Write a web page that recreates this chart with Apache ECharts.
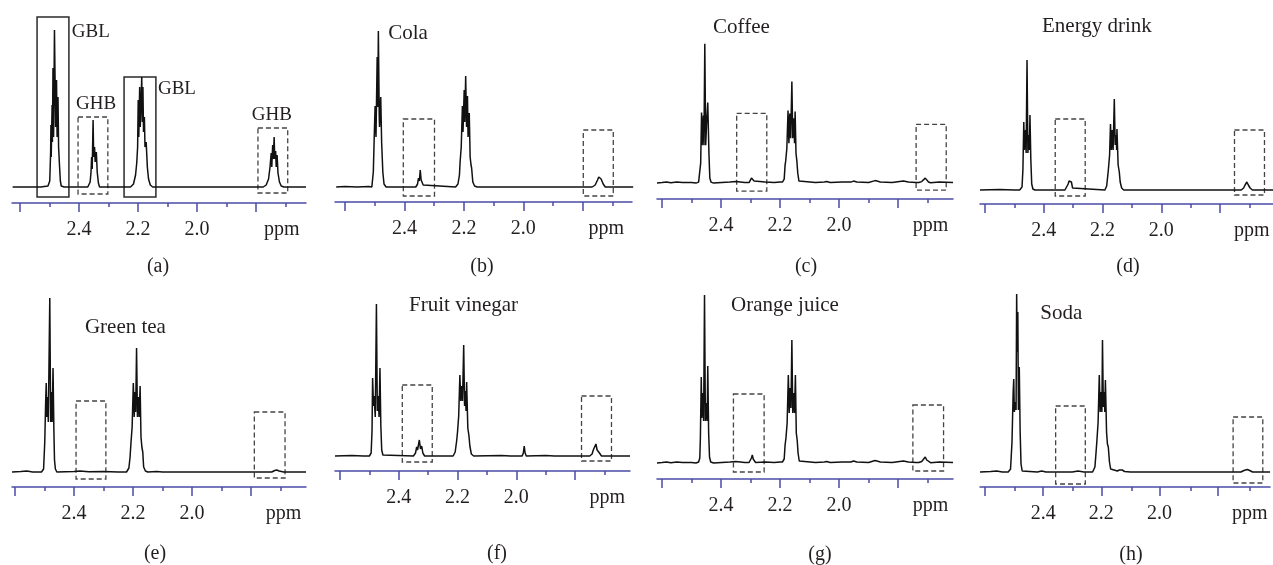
<!DOCTYPE html>
<html>
<head>
<meta charset="utf-8">
<title>GBL / GHB NMR spectra</title>
<script src="https://cdn.jsdelivr.net/npm/echarts@6/dist/echarts.min.js"></script>
<style>
  html, body { margin: 0; padding: 0; background: #fff; }
  #chart { width: 1273px; height: 565px; }
</style>
</head>
<body>
<div id="chart"></div>
<script>
// ---- data: ppm / intensity pairs ----
var panelNames = ['', 'Cola', 'Coffee', 'Energy drink', 'Green tea', 'Fruit vinegar', 'Orange juice', 'Soda'];
var panelTags = ['(a)', '(b)', '(c)', '(d)', '(e)', '(f)', '(g)', '(h)'];
var majorTicks = [2.6, 2.4, 2.2, 2.0, 1.8];
var minorTicks = [2.5, 2.3, 2.1, 1.9, 1.7];
var tickLabels = [2.4, 2.2, 2.0];

var specA = [[2.625,0],[2.57,0],[2.566,1.5],[2.562,0],[2.53,0],[2.505,1],[2.499,6],[2.496,35],[2.495,62],[2.494,30],[2.491,82],[2.490,45],[2.488,119],[2.486,50],[2.483,157],[2.479,60],[2.476,107],[2.474,50],[2.471,90],[2.469,40],[2.466,22],[2.463,6],[2.460,1],[2.45,0],
  [2.37,0],[2.362,5],[2.359,15],[2.357,30],[2.355,18],[2.352,67],[2.350,30],[2.347,40],[2.345,25],[2.341,35],[2.338,15],[2.334,4],[2.330,0],
  [2.275,0],[2.271,2],[2.267,0],
  [2.225,0],[2.215,3],[2.208,12],[2.204,24],[2.201,40],[2.199,87],[2.197,50],[2.194,100],[2.192,60],[2.187,110],[2.185,65],[2.183,100],[2.181,55],[2.178,70],[2.176,40],[2.172,45],[2.168,20],[2.164,8],[2.158,2],[2.150,0],
  [1.775,0],[1.765,2],[1.757,8],[1.752,20],[1.748,34],[1.746,20],[1.743,42],[1.741,28],[1.738,50],[1.736,28],[1.733,36],[1.731,20],[1.728,32],[1.725,14],[1.720,5],[1.714,1],[1.705,0],[1.63,0]];
var specB = [[2.63,0],[2.60,0.5],[2.56,0],[2.52,0.5],[2.510,0],[2.505,15],[2.501,60],[2.499,81],[2.496,50],[2.492,130],[2.490,80],[2.488,156],[2.485,70],[2.484,60],[2.480,90],[2.477,45],[2.473,15],[2.469,3],[2.462,0],
  [2.362,0],[2.356,3],[2.353,9],[2.350,6],[2.347,17],[2.344,7],[2.341,9],[2.337,2],[2.332,0],
  [2.228,0],[2.220,3],[2.215,12],[2.213,24],[2.209,40],[2.205,81],[2.203,55],[2.199,97],[2.197,65],[2.194,111],[2.191,60],[2.188,91],[2.186,50],[2.182,74],[2.179,30],[2.176,22],[2.174,19],[2.170,5],[2.164,1],[2.155,0],
  [1.768,0],[1.758,2],[1.750,7],[1.746,10],[1.743,8],[1.741,12],[1.738,8],[1.735,9],[1.731,3],[1.724,0],[1.63,0]];
var specC = [[2.617,0],[2.60,0.5],[2.585,1],[2.57,0.3],[2.55,1],[2.53,0.5],[2.50,0.5],[2.485,0],[2.476,1],[2.473,3],[2.469,20],[2.466,71],[2.464,38],[2.460,68],[2.458,38],[2.455,140],[2.452,38],[2.449,60],[2.445,81],[2.441,30],[2.438,5],[2.434,1],[2.425,0],
  [2.37,1],[2.35,1.5],[2.32,0.5],[2.305,0.5],[2.300,2],[2.297,5],[2.294,7],[2.291,4],[2.288,2],[2.283,0.5],[2.25,1],[2.22,0.5],[2.20,1],
  [2.192,1],[2.186,4],[2.183,18],[2.181,22],[2.177,35],[2.173,73],[2.170,40],[2.167,70],[2.164,45],[2.160,102],[2.157,45],[2.153,65],[2.151,40],[2.149,72],[2.146,30],[2.143,22],[2.140,10],[2.136,2],[2.130,0.5],
  [2.08,0.5],[2.05,1],[2.042,1.5],[2.03,0.5],[1.99,1],[1.96,1],[1.951,2],[1.94,1],[1.90,0.5],[1.878,2.5],[1.86,1],[1.82,0.5],[1.782,2],[1.765,1],[1.74,0.5],[1.730,0.5],[1.720,1.5],[1.714,3],[1.708,5],[1.703,3],[1.697,1],[1.690,0.3],[1.66,1],[1.614,0.5]];
var specD = [[2.617,0],[2.55,0.5],[2.50,0],[2.482,0],[2.474,3],[2.471,20],[2.468,68],[2.466,40],[2.462,60],[2.460,37],[2.457,130],[2.454,37],[2.451,55],[2.449,40],[2.447,75],[2.444,30],[2.441,6],[2.437,1],[2.430,0],
  [2.328,0],[2.322,2],[2.317,6],[2.314,9],[2.312,11],[2.309,7],[2.306,8],[2.302,2],[2.296,0],
  [2.192,0],[2.186,4],[2.182,15],[2.180,21],[2.176,35],[2.173,66],[2.170,40],[2.167,60],[2.164,40],[2.160,91],[2.157,45],[2.154,55],[2.152,40],[2.151,61],[2.147,25],[2.143,18],[2.140,8],[2.135,2],[2.128,0],
  [1.728,0],[1.720,2],[1.715,5],[1.709,8],[1.704,5],[1.698,2],[1.690,0],[1.62,0]];
var specE = [[2.61,0],[2.58,0.5],[2.56,1],[2.54,0],[2.510,0],[2.503,3],[2.499,30],[2.496,70],[2.494,89],[2.492,55],[2.489,75],[2.487,50],[2.482,174],[2.479,50],[2.476,80],[2.474,50],[2.471,104],[2.468,40],[2.466,12],[2.463,3],[2.458,0],
  [2.40,0.5],[2.38,1],[2.35,0.3],[2.30,0.5],[2.25,0],
  [2.222,0],[2.214,4],[2.210,15],[2.207,29],[2.203,45],[2.199,89],[2.196,55],[2.193,80],[2.191,60],[2.188,124],[2.185,55],[2.182,75],[2.179,55],[2.176,86],[2.173,35],[2.170,25],[2.167,20],[2.164,5],[2.158,1],[2.150,0],[2.12,0.5],[2.10,0],
  [1.73,0],[1.72,1.5],[1.713,2],[1.705,1],[1.69,0],[1.614,0]];
var specF = [[2.617,0],[2.56,0.5],[2.52,0],[2.500,0],[2.494,3],[2.491,25],[2.489,78],[2.486,50],[2.484,60],[2.480,39],[2.476,152],[2.473,45],[2.470,60],[2.467,39],[2.464,88],[2.461,30],[2.458,6],[2.454,1],[2.448,0],
  [2.350,0],[2.343,3],[2.339,9],[2.336,6],[2.330,16],[2.326,7],[2.322,10],[2.318,3],[2.312,0],
  [2.215,0],[2.208,4],[2.203,15],[2.200,24],[2.196,40],[2.192,81],[2.189,55],[2.186,70],[2.183,55],[2.179,111],[2.176,50],[2.173,65],[2.171,45],[2.169,74],[2.165,28],[2.161,20],[2.158,10],[2.153,2],[2.145,0],
  [2.05,0.5],[2.02,0],[1.980,0],[1.976,3],[1.973,10],[1.970,3],[1.966,0],[1.90,0.5],[1.87,0],
  [1.750,0],[1.742,2],[1.738,6],[1.736,7],[1.733,5],[1.729,12],[1.725,6],[1.721,7],[1.717,3],[1.710,0],[1.613,0]];
var specG = [[2.617,0],[2.60,0.5],[2.585,1],[2.57,0.3],[2.55,1],[2.53,0.5],[2.50,0.5],[2.485,0],[2.476,1],[2.472,5],[2.470,25],[2.467,86],[2.465,45],[2.461,70],[2.459,42],[2.456,168],[2.453,42],[2.450,60],[2.447,42],[2.445,97],[2.442,30],[2.439,6],[2.435,1],[2.425,0],
  [2.37,1],[2.35,1.5],[2.32,0.5],[2.305,0.5],[2.300,2],[2.297,5],[2.294,8],[2.291,4],[2.288,2],[2.283,0.5],[2.25,1],[2.22,0.5],[2.20,1],
  [2.192,1],[2.186,4],[2.183,18],[2.180,25],[2.176,40],[2.172,88],[2.169,50],[2.166,75],[2.163,55],[2.160,123],[2.157,50],[2.153,70],[2.151,50],[2.148,88],[2.145,30],[2.142,23],[2.139,10],[2.135,2],[2.130,0.5],
  [2.08,0.5],[2.05,1],[2.042,1.5],[2.03,0.5],[1.99,1],[1.96,1],[1.951,2],[1.94,1],[1.90,0.5],[1.878,2.5],[1.86,1],[1.82,0.5],[1.782,2],[1.765,1],[1.74,0.5],[1.730,0.5],[1.720,1.5],[1.714,3],[1.708,6],[1.703,3],[1.697,1],[1.690,0.3],[1.66,1],[1.614,0.5]];
var specH = [[2.617,0],[2.58,0.5],[2.56,1],[2.54,0],[2.520,0],[2.512,3],[2.507,30],[2.503,80],[2.501,93],[2.499,60],[2.495,70],[2.493,62],[2.491,178],[2.489,120],[2.487,160],[2.485,62],[2.482,105],[2.479,40],[2.476,8],[2.472,1],[2.466,0],
  [2.42,0],[2.405,1],[2.39,0],[2.30,0],[2.28,1],[2.26,0],
  [2.230,0],[2.222,5],[2.218,20],[2.215,32],[2.211,50],[2.207,97],[2.204,60],[2.201,80],[2.198,60],[2.196,132],[2.193,65],[2.190,80],[2.188,60],[2.186,92],[2.182,40],[2.179,28],[2.176,25],[2.172,10],[2.168,3],[2.162,1],
  [2.145,1],[2.138,2],[2.133,3.5],[2.128,2],[2.120,0.5],[2.10,0],
  [1.72,0],[1.71,1.5],[1.698,2.5],[1.69,1.5],[1.68,0],[1.62,0]];
var spectra = [specA, specB, specC, specD, specE, specF, specG, specH];

// boxes: [ppm from, ppm to, top, bottom, solid?]
var boxesA = [[2.542, 2.434, 170, -10, true], [2.403, 2.302, 70, -7, false], [2.247, 2.139, 110, -10, true], [1.793, 1.692, 59, -6, false]];
var boxesB = [[2.404, 2.299, 68, -9, false], [1.798, 1.697, 57, -9, false]];
var boxesC = [[2.347, 2.245, 70, -8, false], [1.739, 1.637, 59, -7, false]];
var boxesD = [[2.361, 2.259, 71, -6, false], [1.751, 1.649, 60, -5, false]];
var boxesE = [[2.393, 2.292, 71, -7, false], [1.789, 1.685, 60, -6, false]];
var boxesF = [[2.388, 2.286, 71, -6, false], [1.778, 1.676, 60, -5, false]];
var boxesG = [[2.358, 2.254, 69, -9, false], [1.750, 1.646, 58, -8, false]];
var boxesH = [[2.357, 2.255, 66, -12, false], [1.747, 1.645, 55, -11, false]];
var boxes = [boxesA, boxesB, boxesC, boxesD, boxesE, boxesF, boxesG, boxesH];

// peak annotations in panel (a): [text, ppm, intensity]
var peakLabels = [['GBL', 2.424, 155], ['GHB', 2.410, 83], ['GBL', 2.132, 98], ['GHB', 1.814, 72]];
// sample name anchors: [ppm, intensity]
var nameAnchors = [null, [2.455, 154], [2.427, 156], [2.406, 164], [2.363, 145], [2.365, 151], [2.366, 158], [2.410, 159]];

// ---- layout (pixels) ----
var H = 200;
var layout = [
    { left: 12,  right: 306,  axisY: 203, gap: 16, max: 2.627, min: 1.630, ppm: 1.712, capX: 158,  capY: 267 },
    { left: 335, right: 632,  axisY: 202, gap: 15, max: 2.634, min: 1.634, ppm: 1.721, capX: 482,  capY: 267 },
    { left: 657, right: 953,  axisY: 199, gap: 16, max: 2.617, min: 1.614, ppm: 1.690, capX: 806,  capY: 267 },
    { left: 980, right: 1273, axisY: 204, gap: 14, max: 2.617, min: 1.620, ppm: 1.692, capX: 1128, capY: 267 },
    { left: 12,  right: 306,  axisY: 487, gap: 15, max: 2.610, min: 1.614, ppm: 1.690, capX: 155,  capY: 554 },
    { left: 335, right: 630,  axisY: 471, gap: 15, max: 2.617, min: 1.613, ppm: 1.690, capX: 497,  capY: 554 },
    { left: 657, right: 953,  axisY: 479, gap: 16, max: 2.617, min: 1.614, ppm: 1.690, capX: 820,  capY: 555 },
    { left: 980, right: 1273, axisY: 487, gap: 15, max: 2.617, min: 1.620, ppm: 1.690, capX: 1131, capY: 555 }
];

var axisColor = '#4b4ba6';
var textColor = '#231f20';
var serif = "'Liberation Serif', 'DejaVu Serif', serif";

document.addEventListener('DOMContentLoaded', function () {
    var chart = echarts.init(document.getElementById('chart'));

    var grids = [], xAxes = [], yAxes = [], series = [], graphics = [];

    layout.forEach(function (p, i) {
        var rect = { left: p.left, width: p.right - p.left, top: p.axisY - H, height: H };
        // main grid (2*i) and a twin grid (2*i+1) only for the short ticks
        grids.push(Object.assign({}, rect));
        grids.push(Object.assign({}, rect));

        xAxes.push({
            type: 'value', gridIndex: 2 * i, inverse: true, min: p.min, max: p.max,
            splitLine: { show: false },
            axisLine: { show: true, onZero: false, lineStyle: { color: axisColor, width: 1.5 } },
            axisTick: { show: true, customValues: majorTicks, length: 9, lineStyle: { color: axisColor, width: 1.5 } },
            axisLabel: {
                show: true, customValues: tickLabels.concat([p.ppm]), margin: 17,
                fontSize: 20, fontFamily: serif, color: textColor,
                formatter: function (v) { return Math.abs(v - p.ppm) < 1e-6 ? 'ppm' : v.toFixed(1); }
            }
        });
        xAxes.push({
            type: 'value', gridIndex: 2 * i + 1, inverse: true, min: p.min, max: p.max,
            splitLine: { show: false },
            axisLine: { show: false, onZero: false },
            axisTick: { show: true, customValues: minorTicks, length: 4, lineStyle: { color: axisColor, width: 1.5 } },
            axisLabel: { show: false }
        });
        yAxes.push({ type: 'value', gridIndex: 2 * i, min: -p.gap, max: H - p.gap, show: false });
        yAxes.push({ type: 'value', gridIndex: 2 * i + 1, min: -p.gap, max: H - p.gap, show: false });

        var areas = boxes[i].map(function (b) {
            return [{
                coord: [b[0], b[2]],
                itemStyle: {
                    color: 'rgba(0,0,0,0)',
                    borderColor: b[4] ? '#2a2a2a' : '#444',
                    borderWidth: b[4] ? 1.5 : 1.3,
                    borderType: b[4] ? 'solid' : [5, 3]
                }
            }, { coord: [b[1], b[3]] }];
        });

        series.push({
            type: 'line', xAxisIndex: 2 * i, yAxisIndex: 2 * i,
            data: spectra[i], showSymbol: false, silent: true,
            lineStyle: { color: '#111', width: 1.5 },
            markArea: { silent: true, label: { show: false }, data: areas }
        });

        var texts = i === 0
            ? peakLabels.map(function (l) { return { name: l[0], value: [l[1], l[2]] }; })
            : [{ name: panelNames[i], value: nameAnchors[i] }];
        series.push({
            type: 'scatter', xAxisIndex: 2 * i, yAxisIndex: 2 * i,
            symbolSize: 0, itemStyle: { color: textColor, opacity: 1 }, silent: true,
            data: texts,
            label: {
                show: true, position: 'right', distance: 0, formatter: '{b}',
                fontSize: i === 0 ? 19 : 21, fontFamily: serif, color: textColor, textBorderWidth: 0
            }
        });

        graphics.push({
            type: 'text', x: p.capX, y: p.capY,
            style: { text: panelTags[i], fontSize: 20, fontFamily: serif, fill: textColor, align: 'center', verticalAlign: 'middle' }
        });
    });

    var option = {
        animation: false,
        backgroundColor: '#fff',
        grid: grids,
        xAxis: xAxes,
        yAxis: yAxes,
        series: series,
        graphic: graphics
    };

    try {
        chart.setOption(option);
    } catch (error) {
        console.error('Error setting the chart option:', error);
    }
});
</script>
</body>
</html>
